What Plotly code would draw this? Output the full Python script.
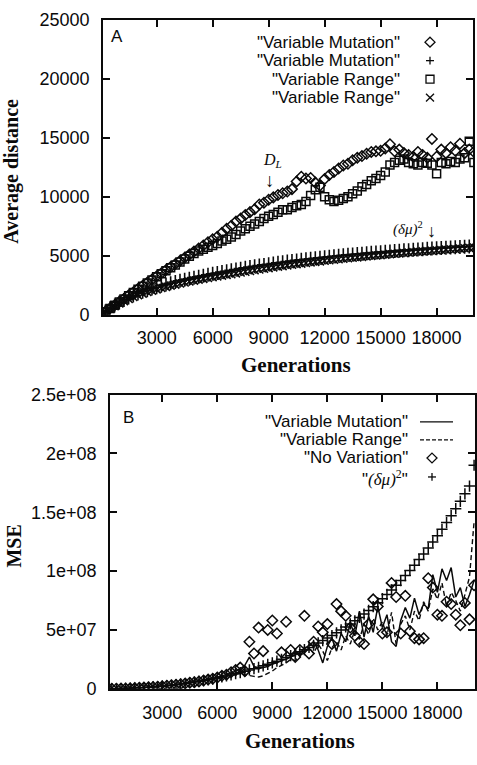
import plotly.graph_objects as go

W, H = 477, 765

# ---------------- data ----------------
GENERATIONS = [0, 250, 500, 750, 1000, 1250, 1500, 1750, 2000, 2250, 2500, 2750, 3000, 3250, 3500, 3750,
               4000, 4250, 4500, 4750, 5000, 5250, 5500, 5750, 6000, 6250, 6500, 6750, 7000, 7250, 7500, 7750,
               8000, 8250, 8500, 8750, 9000, 9250, 9500, 9750, 10000, 10250, 10500, 10750, 11000, 11250, 11500, 11750,
               12000, 12250, 12500, 12750, 13000, 13250, 13500, 13750, 14000, 14250, 14500, 14750, 15000, 15250, 15500, 15750,
               16000, 16250, 16500, 16750, 17000, 17250, 17500, 17750, 18000, 18250, 18500, 18750, 19000, 19250, 19500, 19750,
               20000]

# Panel A: average distance
A_VM_DIST = [0, 270, 550, 820, 1100, 1370, 1650, 1920, 2200, 2460, 2730, 2990, 3260, 3520, 3790, 4050,
             4310, 4570, 4840, 5100, 5360, 5620, 5880, 6150, 6400, 6620, 6950, 7300, 7550, 7900, 8150, 8450,
             8700, 8950, 9350, 9500, 9750, 9950, 10150, 10300, 10450, 10650, 11300, 11700, 11550, 11600, 11200, 10950,
             11500, 11850, 12100, 12400, 12650, 12800, 13100, 13300, 13450, 13650, 13800, 13850, 13900, 14100, 14450, 13850,
             14000, 13700, 13550, 13400, 13800, 13550, 13300, 14900, 13400, 14000, 13700, 14200, 13900, 14500, 13700, 14000,
             13800]
A_VM_DMU2 = [0, 280, 550, 800, 1040, 1260, 1460, 1640, 1800, 1950, 2090, 2220, 2340, 2460, 2570, 2680,
             2780, 2880, 2970, 3060, 3150, 3230, 3310, 3390, 3470, 3545, 3620, 3695, 3770, 3840, 3910, 3980,
             4050, 4110, 4170, 4230, 4290, 4350, 4410, 4460, 4510, 4560, 4610, 4660, 4710, 4750, 4790, 4840,
             4880, 4920, 4960, 5000, 5040, 5080, 5110, 5150, 5180, 5220, 5250, 5280, 5310, 5340, 5370, 5400,
             5430, 5460, 5480, 5510, 5540, 5560, 5590, 5610, 5640, 5660, 5680, 5710, 5730, 5750, 5770, 5790,
             5810]
A_VR_DIST = [0, 270, 540, 810, 1080, 1350, 1620, 1890, 2160, 2420, 2690, 2950, 3220, 3470, 3730, 3980,
             4230, 4470, 4720, 4960, 5200, 5400, 5550, 5720, 5880, 6050, 6250, 6400, 6600, 6800, 7100, 7300,
             7500, 7700, 7900, 8150, 8350, 8500, 8700, 8900, 8900, 9100, 9250, 9350, 9600, 10100, 10600, 10800,
             10000, 9750, 9600, 9700, 9850, 10000, 10250, 10500, 10850, 11050, 11350, 11550, 11800, 12100, 12700, 12900,
             13100, 13200, 12900, 12800, 12700, 12900, 12850, 12700, 11950, 12900, 12800, 13000, 12900, 13200, 13300, 14700,
             12900]
A_VR_DMU2 = [0, 260, 510, 740, 960, 1160, 1340, 1510, 1660, 1800, 1930, 2050, 2160, 2270, 2370, 2470,
             2560, 2650, 2740, 2820, 2900, 2980, 3050, 3120, 3190, 3260, 3320, 3380, 3440, 3510, 3580, 3650,
             3710, 3780, 3840, 3900, 3960, 4020, 4080, 4130, 4190, 4240, 4290, 4340, 4390, 4440, 4490, 4530,
             4580, 4620, 4670, 4710, 4750, 4790, 4830, 4870, 4910, 4950, 4990, 5030, 5060, 5100, 5140, 5170,
             5210, 5240, 5280, 5310, 5340, 5370, 5400, 5430, 5460, 5490, 5520, 5550, 5580, 5610, 5640, 5670,
             5700]

# Panel B: MSE (in units of 1e6)
B_VM = [0, 0.05, 0.1, 0.2, 0.3, 0.45, 0.6, 0.8, 1.0, 1.3, 1.6, 1.9, 2.3, 2.7, 3.1, 3.6,
        4.1, 4.7, 5.3, 6.0, 6.6, 7.3, 8.1, 8.9, 9.7, 10.8, 12.0, 13.5, 15, 17, 20, 27,
        19, 17, 18, 19, 21, 22, 24, 25, 27, 29, 31, 34, 37, 40, 33, 22,
        36, 43, 32, 47, 40, 56, 45, 66, 44, 62, 48, 70, 52, 63, 40, 36,
        58, 69, 60, 77, 63, 72, 68, 97, 82, 102, 92, 103, 78, 86, 70, 80,
        92]
B_VR = [0, 0.05, 0.1, 0.2, 0.3, 0.4, 0.6, 0.8, 1.0, 1.2, 1.5, 1.8, 2.2, 2.6, 3.0, 3.5,
        4.0, 4.5, 5.1, 5.7, 6.3, 7.0, 7.7, 8.4, 9.2, 10, 11, 12, 12.5, 13, 12, 11,
        10.5, 10, 11, 13, 15, 18, 20, 22, 25, 24, 28, 31, 35, 30, 38, 32,
        24, 35, 40, 33, 45, 38, 50, 42, 55, 46, 60, 50, 57, 45, 65, 38,
        55, 62, 50, 66, 58, 74, 66, 85, 76, 90, 70, 82, 75, 66, 80, 95,
        142]
B_NOVAR = [0, 0.05, 0.1, 0.2, 0.3, 0.4, 0.6, 0.8, 1.0, 1.2, 1.5, 1.8, 2.2, 2.6, 3.0, 3.4,
           3.9, 4.5, 5.1, 5.6, 6.2, 7.0, 7.8, 8.5, 9.5, 11, 12, 14, 16, 18, 15, 40,
           30, 52, 32, 50, 58, 47, 31, 57, 33, 27, 33, 62, 30, 40, 53, 48,
           55, 38, 72, 66, 62, 52, 45, 40, 38, 55, 76, 70, 47, 48, 90, 78,
           47, 79, 49, 43, 42, 43, 94, 86, 63, 62, 74, 72, 63, 54, 73, 59,
           88]
B_DMU2 = [0, 0.05, 0.1, 0.2, 0.3, 0.4, 0.6, 0.8, 1.0, 1.3, 1.6, 1.9, 2.2, 2.6, 3.0, 3.5,
          4.0, 4.5, 5.1, 5.7, 6.3, 7.0, 7.7, 8.4, 9.2, 10.0, 10.9, 11.8, 12.8, 13.8, 14.9, 16.0,
          17.1, 18.3, 19.5, 20.8, 22.1, 23.5, 25.0, 26.5, 28.1, 29.7, 31.4, 33.2, 35.1, 37.0, 39.0, 41.0,
          43.1, 45.3, 47.6, 50.0, 52.5, 55.1, 57.8, 60.6, 63.5, 66.6, 69.8, 73.1, 76.6, 80.2, 84.0, 87.9,
          92.0, 96.2, 100.6, 105.1, 109.8, 114.6, 119.6, 124.8, 130.1, 135.6, 141.3, 147.1, 153.1, 159.3, 165.7, 172.3,
          190.0]

A_YTICKS = [0, 5000, 10000, 15000, 20000, 25000]
A_YTICKTEXT = ["0", "5000", "10000", "15000", "20000", "25000"]
B_YTICKS = [0, 5e7, 1e8, 1.5e8, 2e8, 2.5e8]
B_YTICKTEXT = ["0", "5e+07", "1e+08", "1.5e+08", "2e+08", "2.5e+08"]
XTICKS = [3000, 6000, 9000, 12000, 15000, 18000]
XTICKTEXT = ["3000", "6000", "9000", "12000", "15000", "18000"]

LEG_A = ['"Variable Mutation"', '"Variable Mutation"', '"Variable Range"', '"Variable Range"']
LEG_B = ['"Variable Mutation"', '"Variable Range"', '"No Variation"',
         '"<span style="font-family:Liberation Serif"><i>(δμ)</i><sup>2</sup></span>"']

# ---------------- styling helpers ----------------
INK = "#0a0a0a"
SANS = "Liberation Sans, Arial, sans-serif"
SERIF = "Liberation Serif, Times New Roman, serif"


def px(x):
    return x / W


def py(y):
    return 1 - y / H


def mil(v):
    return [t * 1e6 for t in v]


fig = go.Figure()

# Panel A traces
fig.add_trace(go.Scatter(x=GENERATIONS, y=A_VM_DMU2, mode="markers", name=LEG_A[1],
                         marker=dict(symbol="cross-thin-open", size=10, color=INK, line=dict(color=INK, width=1.6)),
                         xaxis="x", yaxis="y"))
fig.add_trace(go.Scatter(x=GENERATIONS, y=A_VR_DMU2, mode="markers", name=LEG_A[3],
                         marker=dict(symbol="x-thin-open", size=8, color=INK, line=dict(color=INK, width=1.6)),
                         xaxis="x", yaxis="y"))
fig.add_trace(go.Scatter(x=GENERATIONS, y=A_VR_DIST, mode="markers", name=LEG_A[2],
                         marker=dict(symbol="square-open", size=8, color=INK, line=dict(width=1.5)),
                         xaxis="x", yaxis="y"))
fig.add_trace(go.Scatter(x=GENERATIONS, y=A_VM_DIST, mode="markers", name=LEG_A[0],
                         marker=dict(symbol="diamond-open", size=8, color=INK, line=dict(width=1.5)),
                         xaxis="x", yaxis="y"))

# Panel B traces
fig.add_trace(go.Scatter(x=GENERATIONS, y=mil(B_DMU2), mode="markers", name="(δμ)²",
                         marker=dict(symbol="cross-thin-open", size=8, color=INK, line=dict(color=INK, width=1.5)),
                         xaxis="x2", yaxis="y2"))
fig.add_trace(go.Scatter(x=GENERATIONS, y=mil(B_NOVAR), mode="markers", name=LEG_B[2],
                         marker=dict(symbol="diamond-open", size=8, color=INK, line=dict(width=1.5)),
                         xaxis="x2", yaxis="y2"))
fig.add_trace(go.Scatter(x=GENERATIONS, y=mil(B_VR), mode="lines", name=LEG_B[1],
                         line=dict(color=INK, width=1.4, dash="5px,3px"),
                         xaxis="x2", yaxis="y2"))
fig.add_trace(go.Scatter(x=GENERATIONS, y=mil(B_VM), mode="lines", name=LEG_B[0],
                         line=dict(color=INK, width=1.5),
                         xaxis="x2", yaxis="y2"))

axis_common = dict(showline=True, linecolor=INK, linewidth=1.8, mirror="ticks", ticks="inside",
                   ticklen=7, tickwidth=1.5, tickcolor=INK, showgrid=False, zeroline=False,
                   tickfont=dict(family=SANS, size=18, color=INK))

fig.update_layout(
    width=W, height=H, margin=dict(l=0, r=0, t=0, b=0),
    paper_bgcolor="white", plot_bgcolor="white", showlegend=False,
    xaxis=dict(axis_common, domain=[px(103), px(473)], range=[125, 19950], anchor="y",
               tickvals=XTICKS, ticktext=XTICKTEXT, ticklabelstandoff=6),
    yaxis=dict(axis_common, domain=[py(313), py(10)], range=[0, 25000], anchor="x",
               tickvals=A_YTICKS, ticktext=A_YTICKTEXT, ticklabelstandoff=8),
    xaxis2=dict(axis_common, domain=[px(110), px(475)], range=[150, 20050], anchor="y2",
                tickvals=XTICKS, ticktext=XTICKTEXT, ticklabelstandoff=7),
    yaxis2=dict(axis_common, domain=[py(697), py(395)], range=[0, 2.5e8], anchor="x2",
                tickvals=B_YTICKS, ticktext=B_YTICKTEXT, ticklabelstandoff=8),
)

ann = []
# axis titles
ann.append(dict(text="<b>Generations</b>", x=px(296), y=py(365), font=dict(family=SERIF, size=21, color=INK)))
ann.append(dict(text="<b>Generations</b>", x=px(300), y=py(751), font=dict(family=SERIF, size=21, color=INK)))
ann.append(dict(text="<b>Average distance</b>", x=px(12), y=py(166), textangle=-90,
                font=dict(family=SERIF, size=20, color=INK)))
ann.append(dict(text="<b>MSE</b>", x=px(14), y=py(551), textangle=-90,
                font=dict(family=SERIF, size=20, color=INK)))
# panel labels
ann.append(dict(text="A", x=px(117), y=py(27), font=dict(family=SANS, size=17, color=INK)))
ann.append(dict(text="B", x=px(128), y=py(418), font=dict(family=SANS, size=17, color=INK)))
# in-plot markers of special points
ann.append(dict(text="<i>D<sub>L</sub></i>", x=px(272), y=py(155), font=dict(family=SERIF, size=16, color=INK)))
ann.append(dict(text="↓", x=px(270), y=py(175), font=dict(family=SERIF, size=19, color=INK)))
ann.append(dict(text="<i>(δμ)</i><sup>2</sup>", x=px(408), y=py(224), font=dict(family=SERIF, size=15, color=INK)))
ann.append(dict(text="↓", x=px(431), y=py(227), font=dict(family=SERIF, size=18, color=INK)))

# legend texts
for i, lab in enumerate(LEG_A):
    ann.append(dict(text=lab, x=px(402), y=py(33 + 19 * i), xanchor="right",
                    font=dict(family=SANS, size=17, color=INK)))
for i, lab in enumerate(LEG_B):
    ann.append(dict(text=lab, x=px(410), y=py(423 + 18.5 * i + (2 if i == 3 else 0)), xanchor="right",
                    font=dict(family=SANS, size=17, color=INK)))

for a in ann:
    a.setdefault("xref", "paper")
    a.setdefault("yref", "paper")
    a.setdefault("showarrow", False)
    a.setdefault("xanchor", "center")
    a.setdefault("yanchor", "middle")
fig.update_layout(annotations=ann)

# legend keys (drawn as shapes in paper space)
shapes = []
lk = dict(color=INK, width=1.3)


def seg(x0, y0, x1, y1, dash=None):
    d = dict(type="line", xref="paper", yref="paper", x0=px(x0), y0=py(y0), x1=px(x1), y1=py(y1),
             line=dict(lk))
    if dash:
        d["line"]["dash"] = dash
    return d


# panel A keys
cx = 430
cy = 33
shapes.append(dict(type="path", xref="paper", yref="paper",
                   path=f"M {px(cx)},{py(cy-5)} L {px(cx+5)},{py(cy)} L {px(cx)},{py(cy+5)} L {px(cx-5)},{py(cy)} Z",
                   line=lk))
cy = 52
shapes.append(seg(cx - 4, cy, cx + 4, cy))
shapes.append(seg(cx, cy - 4, cx, cy + 4))
cy = 71
shapes.append(dict(type="rect", xref="paper", yref="paper", x0=px(cx - 4), x1=px(cx + 4),
                   y0=py(cy + 4), y1=py(cy - 4), line=lk))
cy = 90
shapes.append(seg(cx - 4, cy - 4, cx + 4, cy + 4))
shapes.append(seg(cx - 4, cy + 4, cx + 4, cy - 4))

# panel B keys
shapes.append(seg(420, 423, 453, 423))
shapes.append(seg(420, 441.5, 453, 441.5, dash="4px,2px"))
cx, cy = 432, 460
shapes.append(dict(type="path", xref="paper", yref="paper",
                   path=f"M {px(cx)},{py(cy-5)} L {px(cx+5)},{py(cy)} L {px(cx)},{py(cy+5)} L {px(cx-5)},{py(cy)} Z",
                   line=lk))
cy = 479.5
shapes.append(seg(cx - 4, cy, cx + 4, cy))
shapes.append(seg(cx, cy - 4, cx, cy + 4))

fig.update_layout(shapes=shapes)

fig.write_html("out.html")
